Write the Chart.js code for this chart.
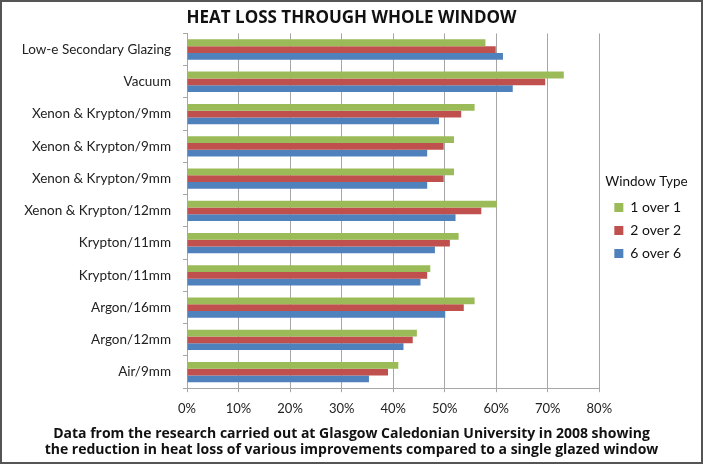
<!DOCTYPE html>
<html>
<head>
  <title>Heat Loss Through Whole Window</title>
  <script src="https://cdn.jsdelivr.net/npm/chart.js"></script>
  <style>
    html, body {
      margin: 0;
      padding: 0;
      background: #fff;
    }
    #wrap {
      width: 703px;
      height: 464px;
      box-sizing: border-box;
      border: 2px solid #555;
      background: #fff;
    }
    canvas {
      display: block;
    }
  </style>
</head>
<body>
  <div id="wrap">
    <canvas id="heatChart" width="699" height="460"></canvas>
  </div>

  <script>
    const categories = [
      'Low-e Secondary Glazing',
      'Vacuum',
      'Xenon & Krypton/9mm',
      'Xenon & Krypton/9mm',
      'Xenon & Krypton/9mm',
      'Xenon & Krypton/12mm',
      'Krypton/11mm',
      'Krypton/11mm',
      'Argon/16mm',
      'Argon/12mm',
      'Air/9mm'
    ];
    const oneOverOne = [57.9, 73.1, 55.8, 51.8, 51.8, 60.1, 52.7, 47.2, 55.8, 44.6, 41.0];
    const twoOverTwo = [59.9, 69.5, 53.2, 49.8, 49.8, 57.1, 51.0, 46.6, 53.7, 43.8, 39.0];
    const sixOverSix = [61.3, 63.2, 48.9, 46.6, 46.6, 52.1, 48.1, 45.3, 50.1, 42.0, 35.3];
    const xTicks = [0, 10, 20, 30, 40, 50, 60, 70, 80];

    const gridGrey = '#a6a6a6';
    const textCol = '#222';
    const labelFont = "Lato, 'Open Sans', sans-serif";
    const sidePad = 16;

    // nudge the legend block a little, the way Excel placed it
    const legendNudge = {
      id: 'legendNudge',
      afterLayout(chart, args, opts) {
        const lg = chart.legend;
        if (!lg) return;
        lg.left += opts.dx; lg.right += opts.dx;
        lg.top += opts.dy; lg.bottom += opts.dy;
      }
    };

    const ctx = document.getElementById('heatChart').getContext('2d');
    const heatChart = new Chart(ctx, {
      type: 'bar',
      data: {
        labels: categories,
        datasets: [
          { label: '1 over 1', data: oneOverOne, backgroundColor: '#9bbb59' },
          { label: '2 over 2', data: twoOverTwo, backgroundColor: '#c0504d' },
          { label: '6 over 6', data: sixOverSix, backgroundColor: '#4f81bd' }
        ]
      },
      plugins: [legendNudge],
      options: {
        indexAxis: 'y',
        responsive: false,
        animation: false,
        datasets: {
          bar: { categoryPercentage: 0.63, barPercentage: 1.0 }
        },
        layout: { padding: { left: sidePad, right: sidePad, top: 0, bottom: 0 } },
        scales: {
          x: {
            min: 0,
            max: 80,
            afterBuildTicks: axis => { axis.ticks = xTicks.map(v => ({ value: v })); },
            ticks: {
              color: textCol,
              font: { family: labelFont, size: 13 },
              padding: 9,
              callback: v => v + '%'
            },
            grid: { color: gridGrey, lineWidth: 1, tickLength: 4 },
            border: { color: gridGrey }
          },
          y: {
            afterFit: axis => { axis.width = 185 - sidePad; },
            ticks: {
              color: textCol,
              font: { family: labelFont, size: 13.5 },
              padding: 12
            },
            grid: { drawOnChartArea: false, color: gridGrey, tickLength: 4 },
            border: { color: gridGrey }
          }
        },
        plugins: {
          legendNudge: { dx: 6, dy: -10 },
          title: {
            display: true,
            text: 'HEAT LOSS THROUGH WHOLE WINDOW',
            color: '#111',
            font: { family: "'Open Sans'", size: 17, weight: 'bold' },
            padding: { top: 6, bottom: 5 }
          },
          subtitle: {
            display: true,
            position: 'bottom',
            text: [
              'Data from the research carried out at Glasgow Caledonian University in 2008 showing',
              'the reduction in heat loss of various improvements compared to a single glazed window'
            ],
            color: '#111',
            font: { family: "'Open Sans'", size: 14, weight: 'bold', lineHeight: 1.15 },
            padding: { top: 0, bottom: 4 }
          },
          legend: {
            position: 'right',
            align: 'center',
            title: {
              display: true,
              text: 'Window Type',
              position: 'start',
              color: '#111',
              font: { family: labelFont, size: 13.5 },
              padding: { top: 0, bottom: 1 }
            },
            labels: {
              color: '#111',
              font: { family: labelFont, size: 14 },
              boxWidth: 9,
              boxHeight: 9,
              padding: 9
            }
          },
          tooltip: { enabled: false }
        }
      }
    });
  </script>
</body>
</html>
